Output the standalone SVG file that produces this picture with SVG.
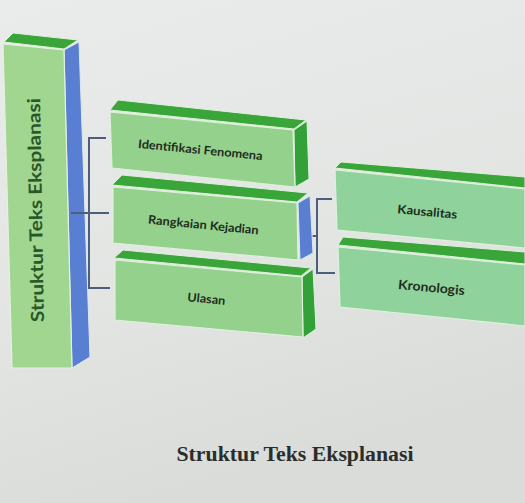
<svg xmlns="http://www.w3.org/2000/svg" width="525" height="503" viewBox="0 0 525 503">
  <defs>
    <linearGradient id="bg" x1="0" y1="0" x2="0.3" y2="1">
      <stop offset="0" stop-color="#e9eceb"/>
      <stop offset="0.6" stop-color="#e2e5e2"/>
      <stop offset="1" stop-color="#d9dcd8"/>
    </linearGradient>
  </defs>
  <style>
    .front { fill: #93d18c; stroke: #dff0dc; stroke-width: 1.2; }
    .front2 { fill: #90d29c; stroke: #dff0dc; stroke-width: 1.2; }
    .bigfront { fill: #a0d68f; stroke: #e4f1df; stroke-width: 1.2; }
    .top { fill: #3aa538; stroke: #dff0dc; stroke-width: 1; }
    .side { fill: #33a038; stroke: #dff0dc; stroke-width: 1; }
    .blue { fill: #587fd2; stroke: #dfe8f0; stroke-width: 1; }
    .lbl { font-family: Lato, "Open Sans", "DejaVu Sans", sans-serif; font-weight: 700; fill: #1f2d20; text-anchor: middle; }
    .conn { fill: none; stroke: #4d5d7e; stroke-width: 2; stroke-linecap: square; }
  </style>
  <rect x="0" y="0" width="525" height="503" fill="url(#bg)"/>

  <g id="node-struktur">
    <polygon class="top" points="4,42 13,33 78,40 64,49"/>
    <polygon class="blue" points="64,50 79,42 90,357 72,368"/>
    <polygon class="bigfront" points="3,44 64,50 72,368 12,368"/>
    <text class="lbl" transform="translate(42,210) rotate(-91)" font-size="18" textLength="224" lengthAdjust="spacingAndGlyphs" style="fill:#2a5628">Struktur Teks Eksplanasi</text>
  </g>

  <g id="connectors">
    <polyline class="conn" points="105,138 89,138 89,288 109,288"/>
    <line class="conn" x1="72" y1="213" x2="108" y2="213"/>
    <polyline class="conn" points="331,199 317,199 317,273 334,273"/>
    <line class="conn" x1="311" y1="236" x2="317" y2="236"/>
  </g>

  <g id="node-identifikasi">
    <polygon class="top" points="110,110 118,100 306,120 294,129"/>
    <polygon class="side" points="294,130 307,121 309,179 295,187"/>
    <polygon class="front" points="110,112 293,130 295,187 112,168"/>
    <text class="lbl" transform="translate(200,154) rotate(5.6)" font-size="12" textLength="125" lengthAdjust="spacingAndGlyphs">Identifikasi Fenomena</text>
  </g>

  <g id="node-rangkaian">
    <polygon class="top" points="112,185 122,175 308,193 297,202"/>
    <polygon class="blue" points="298,203 310,196 313,253 300,260"/>
    <polygon class="front" points="113,187 297,203 298,260 113,243"/>
    <text class="lbl" transform="translate(203,229) rotate(5.6)" font-size="12" textLength="111" lengthAdjust="spacingAndGlyphs">Rangkaian Kejadian</text>
  </g>

  <g id="node-ulasan">
    <polygon class="top" points="114,258 123,250 311,268 301,276"/>
    <polygon class="side" points="302,277 313,269 316,329 303,338"/>
    <polygon class="front" points="115,260 302,277 303,337 115,320"/>
    <text class="lbl" transform="translate(206,303) rotate(5.6)" font-size="12" textLength="38" lengthAdjust="spacingAndGlyphs">Ulasan</text>
  </g>

  <g id="node-kausalitas">
    <polygon class="top" points="335,168 341,162 525,177 525,188"/>
    <polygon class="front2" points="335,170 525,189 525,248 337,230"/>
    <text class="lbl" transform="translate(427,216) rotate(5.2)" font-size="12" textLength="60" lengthAdjust="spacingAndGlyphs">Kausalitas</text>
  </g>

  <g id="node-kronologis">
    <polygon class="top" points="338,245 343,237 525,252 525,264"/>
    <polygon class="front2" points="338,247 525,265 525,326 340,307"/>
    <text class="lbl" transform="translate(431,292) rotate(5.2)" font-size="13" textLength="67" lengthAdjust="spacingAndGlyphs">Kronologis</text>
  </g>

  <text x="295" y="461" font-family="'Liberation Serif', 'DejaVu Serif', serif" font-weight="700" font-size="20" fill="#2b2d2b" text-anchor="middle" textLength="237" lengthAdjust="spacingAndGlyphs">Struktur Teks Eksplanasi</text>
</svg>
